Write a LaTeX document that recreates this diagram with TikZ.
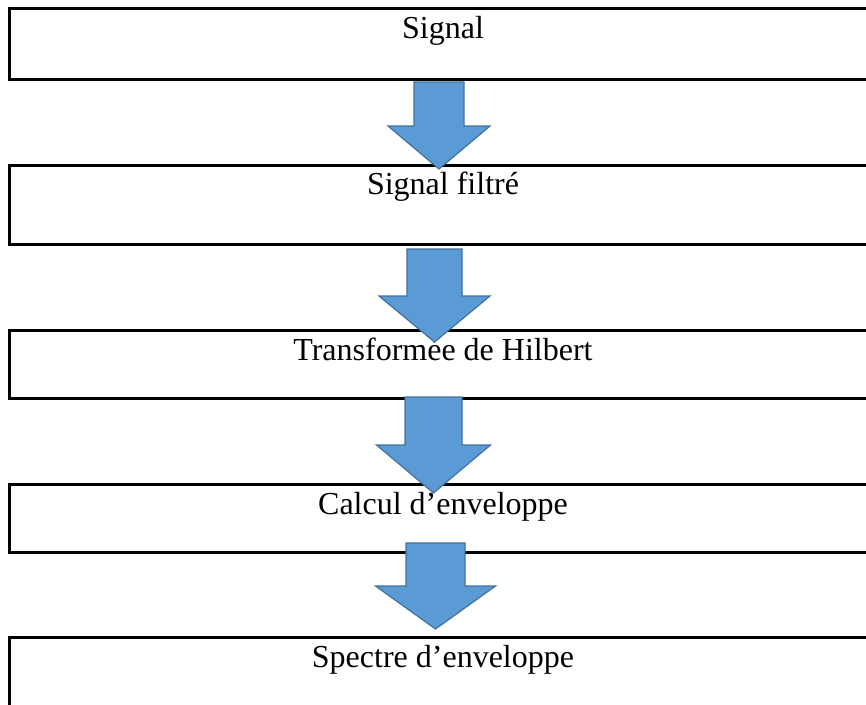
\documentclass[tikz,border=0pt]{standalone}
\usepackage{fontspec}
\setmainfont{Liberation Serif}
\usetikzlibrary{calc}
\definecolor{arrfill}{HTML}{5B9BD5}
\definecolor{arrline}{HTML}{41719C}
\tikzset{
  stagebox/.style={draw=black, line width=3pt, fill=none, anchor=north west, inner sep=0pt, outer sep=0pt},
  stagetext/.style={anchor=base, inner sep=0pt, font=\fontsize{32}{38}\selectfont},
  blockarr/.style={fill=arrfill, draw=arrline, line width=1.2pt, line join=miter},
}
% #1 name, #2 cx, #3 shaft half width, #4 head half width, #5 top y, #6 head y, #7 tip y
\newcommand{\blockarrow}[7]{%
  \coordinate (#1top) at (#2,#5);
  \coordinate (#1tip) at (#2,#7);
  \draw[blockarr] ($(#1top)+(-#3,0)$) -- ($(#1top)+(#3,0)$) -- (#2+#3,#6) -- (#2+#4,#6) -- (#1tip) -- (#2-#4,#6) -- (#2-#3,#6) -- cycle;
}
\begin{document}
\begin{tikzpicture}[x=1pt,y=-1pt]
\path[use as bounding box, clip] (0,0) rectangle (866,704);
% boxes
\node[stagebox, minimum width=880pt, minimum height=71pt] (b1) at (9,8) {};
\node[stagebox, minimum width=880pt, minimum height=79pt] (b2) at (9,165) {};
\node[stagebox, minimum width=880pt, minimum height=68pt] (b3) at (9,330) {};
\node[stagebox, minimum width=880pt, minimum height=68pt] (b4) at (9,484) {};
\node[stagebox, minimum width=880pt, minimum height=90pt] (b5) at (9,637) {};
% texts
\node[stagetext] (t1) at (443,38) {Signal};
\node[stagetext] (t2) at (443,194) {Signal filtré};
\node[stagetext] (t3) at (443,360) {Transformée de Hilbert};
\node[stagetext] (t4) at (443,514) {Calcul d’enveloppe};
\node[stagetext] (t5) at (443,667) {Spectre d’enveloppe};
% arrows
\blockarrow{a1}{439}{25}{51}{82}{126}{169}
\blockarrow{a2}{434.5}{27.5}{55.5}{249}{296}{342}
\blockarrow{a3}{433.5}{28.5}{57}{397}{445}{493}
\blockarrow{a4}{435.5}{29.5}{60}{543}{586}{629}
\end{tikzpicture}
\end{document}
